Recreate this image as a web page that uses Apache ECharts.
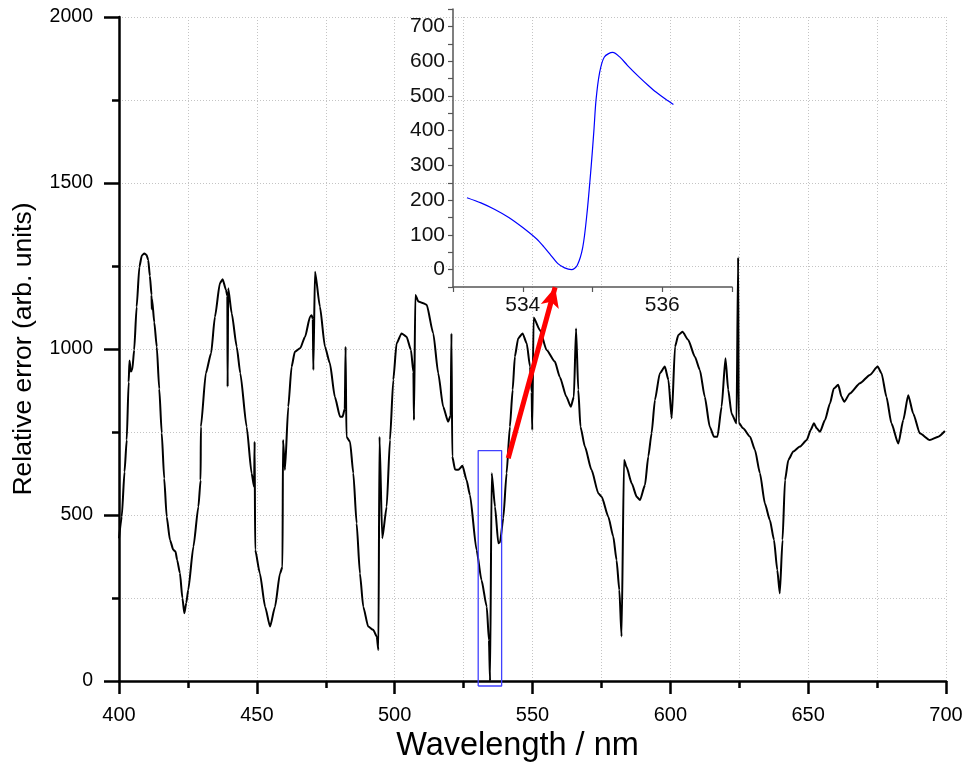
<!DOCTYPE html>
<html>
<head>
<meta charset="utf-8">
<script src="https://cdn.jsdelivr.net/npm/echarts@6/dist/echarts.min.js"></script>
<style>
html,body{margin:0;padding:0;background:#fff;}
#chart{width:966px;height:764px;}
</style>
</head>
<body>
<div id="chart"></div>
<script>
// Main spectrum: wavelength (nm) and relative error
const wavelength = [
400.0,401.0,402.0,402.8,403.5,403.8,404.3,404.8,405.5,406.4,407.4,408.3,409.2,410.0,410.6,411.2,411.8,411.9,412.0,412.8,
413.7,414.6,415.5,416.4,417.3,418.5,419.7,420.5,421.1,422.1,423.0,423.7,424.4,425.1,427.0,428.8,429.6,429.7,431.5,433.4,
434.8,436.6,437.6,438.8,439.3,439.4,439.6,440.9,442.7,444.0,446.3,448.1,449.0,449.2,449.4,451.1,453.0,454.8,456.6,458.4,
459.3,459.5,460.2,461.4,462.6,463.8,465.7,467.5,469.3,469.9,470.3,470.5,471.1,472.9,474.7,476.5,478.3,480.2,481.1,481.9,
482.2,482.5,483.8,485.0,486.2,487.4,488.6,490.4,492.2,493.5,494.1,494.5,495.5,497.1,498.3,499.5,500.7,502.5,504.3,505.9,
506.8,507.0,507.5,508.6,510.4,511.6,514.0,515.8,517.6,519.4,520.3,520.6,520.9,521.9,523.1,524.6,526.1,527.3,529.7,531.5,
533.4,534.2,534.6,535.2,536.4,537.6,538.2,539.4,540.6,541.8,542.8,543.6,544.8,546.4,547.9,549.1,549.7,549.9,550.4,552.7,
555.1,558.1,559.9,562.3,563.9,565.0,565.8,566.6,567.4,569.0,571.4,573.9,575.1,577.5,579.3,580.5,581.5,582.3,583.2,584.1,
586.0,587.8,589.0,590.8,592.0,593.2,594.4,596.2,598.0,599.3,600.5,601.7,602.9,604.4,606.5,608.9,610.7,612.5,614.3,615.8,
617.1,618.6,620.0,621.0,622.2,624.0,624.6,624.8,626.4,628.9,630.7,632.5,634.3,636.1,637.6,638.8,639.7,640.7,641.6,642.8,
644.6,647.0,649.5,650.9,652.1,653.1,654.3,656.1,657.9,659.3,660.9,662.1,663.1,665.1,668.8,672.4,675.2,676.6,678.4,680.2,
682.7,684.5,686.3,688.1,690.5,694.1,697.2,699.6
];
const relError = [
430,495,630,726,900,965,932,937,997,1127,1248,1282,1288,1283,1268,1220,1163,1120,1150,1080,
1007,880,747,610,495,425,395,390,364,325,250,204,235,274,405,525,605,766,927,987,
1097,1198,1210,1178,1160,886,1183,1107,1007,927,766,626,585,721,395,324,224,164,224,324,
344,726,636,826,946,992,1002,1037,1097,1102,1090,937,1233,1127,1007,957,856,796,796,820,
1007,736,721,626,475,324,224,164,154,134,93,736,430,525,726,907,1017,1047,1037,997,
930,786,1163,1143,1138,1133,1047,927,826,781,800,1047,676,637,636,648,605,560,395,304,
224,123,0,626,525,415,418,490,626,766,877,977,1032,1047,1017,947,870,756,1095,1057,
997,962,916,856,826,856,1062,877,766,706,636,565,555,495,435,364,274,134,666,645,
595,555,545,590,676,746,846,927,947,907,791,1007,1042,1052,1027,977,937,856,766,736,
736,826,972,877,806,776,1276,778,761,736,696,626,535,485,425,334,264,425,605,666,
691,706,726,756,776,761,751,786,836,881,892,856,841,866,897,922,947,927,856,776,
715,786,861,806,746,726,736,753
];

// Inset: zoom of the 533-537 nm region
const insetWavelength = [533.2,533.4,533.6,533.8,534.0,534.2,534.3,534.4,534.5,534.6,534.7,534.78,534.86,534.92,534.98,535.02,535.05,535.1,535.17,535.29,535.4,535.5,535.67,535.8,535.91,536.05,536.16];
const insetError = [207,192,173,150,121,88,66,42,18,5,0,12,64,160,295,400,487,565,612,625,610,588,554,530,511,490,475];

// Annotations (data coordinates of the main axes)
const boxWavelength = [530.3, 538.8];
const boxError = [-15, 694];
const arrowStart = [541.2, 671];
const arrowEnd = [558.2, 1186];

const mainXTicks = [400, 450, 500, 550, 600, 650, 700];
const mainYTicks = [0, 500, 1000, 1500, 2000];
const insetXLabels = [534, 536];
const insetYLabels = [0, 100, 200, 300, 400, 500, 600, 700];

const FONT = "'Liberation Sans', Arial, sans-serif";
const gridLine = {show: true, lineStyle: {color: '#c4c4c4', type: [1, 2], width: 1}};

const mainData = wavelength.map((w, i) => [w, relError[i]]);
const insetData = insetWavelength.map((w, i) => [w, insetError[i]]);
const boxData = [
  [boxWavelength[0], boxError[0]], [boxWavelength[1], boxError[0]],
  [boxWavelength[1], boxError[1]], [boxWavelength[0], boxError[1]],
  [boxWavelength[0], boxError[0]]
];

const chart = echarts.init(document.getElementById('chart'), null, {renderer: 'canvas'});
chart.setOption({
  animation: false,
  backgroundColor: '#ffffff',
  textStyle: {fontFamily: FONT},
  grid: [
    {left: 119, top: 17, right: 20, bottom: 83, containLabel: false, outerBoundsMode: 'none'},
    {left: 453, top: 9, width: 279, height: 278, containLabel: false, outerBoundsMode: 'none', z: 10}
  ],
  xAxis: [
    {
      type: 'value', gridIndex: 0,
      min: mainXTicks[0], max: mainXTicks[mainXTicks.length - 1], interval: 50,
      name: 'Wavelength / nm', nameLocation: 'middle', nameGap: 47,
      nameTextStyle: {fontSize: 32.5, color: '#000', fontFamily: FONT, padding: [0, 30, 0, 0]},
      axisLine: {show: true, onZero: false, lineStyle: {color: '#000', width: 2.5}},
      axisTick: {show: true, inside: false, length: 13, lineStyle: {color: '#000', width: 2.5}},
      minorTick: {show: true, splitNumber: 2, length: 7, lineStyle: {color: '#000', width: 2.5}},
      axisLabel: {fontSize: 20, color: '#000', margin: 24, fontFamily: FONT,
        formatter: v => mainXTicks.includes(v) ? String(v) : ''},
      splitLine: gridLine,
      minorSplitLine: gridLine
    },
    {
      type: 'value', gridIndex: 1,
      min: 533, max: 537, interval: 1,
      axisLine: {show: true, onZero: false, lineStyle: {color: '#555', width: 1.5}},
      axisTick: {show: true, length: 5, lineStyle: {color: '#555', width: 1.2}},
      axisLabel: {fontSize: 21, color: '#111', margin: 8, fontFamily: FONT,
        formatter: v => insetXLabels.includes(v) ? String(v) : ''},
      splitLine: {show: false}
    }
  ],
  yAxis: [
    {
      type: 'value', gridIndex: 0,
      min: mainYTicks[0], max: mainYTicks[mainYTicks.length - 1], interval: 500,
      name: 'Relative error (arb. units)', nameLocation: 'middle', nameGap: 82, nameRotate: 90,
      nameTextStyle: {fontSize: 26.5, color: '#000', fontFamily: FONT},
      axisLine: {show: true, onZero: false, lineStyle: {color: '#000', width: 2.5}},
      axisTick: {show: true, inside: false, length: 15, lineStyle: {color: '#000', width: 2.5}},
      minorTick: {show: true, splitNumber: 2, length: 7, lineStyle: {color: '#000', width: 2.5}},
      axisLabel: {fontSize: 19.5, color: '#000', margin: 26, fontFamily: FONT,
        formatter: v => mainYTicks.includes(v) ? String(v) : ''},
      splitLine: gridLine,
      minorSplitLine: gridLine
    },
    {
      type: 'value', gridIndex: 1,
      min: -50, max: 750, interval: 50,
      axisLine: {show: true, onZero: false, lineStyle: {color: '#555', width: 1.5}},
      axisTick: {show: true, length: 5, lineStyle: {color: '#555', width: 1.2}},
      axisLabel: {fontSize: 21, color: '#111', margin: 8, fontFamily: FONT,
        formatter: v => insetYLabels.includes(v) ? String(v) : ''},
      splitLine: {show: false}
    }
  ],
  series: [
    {
      type: 'line', xAxisIndex: 0, yAxisIndex: 0,
      data: mainData, showSymbol: false, symbol: 'none', clip: false,
      smooth: 0.2, smoothMonotone: 'x',
      lineStyle: {color: '#000', width: 2}, z: 3,
      markLine: {
        silent: true, symbol: ['none', 'arrow'], symbolSize: [14, 20],
        label: {show: false},
        lineStyle: {color: '#ff0000', width: 5, type: 'solid'},
        data: [[{coord: arrowStart}, {coord: arrowEnd}]]
      }
    },
    {
      type: 'line', xAxisIndex: 0, yAxisIndex: 0,
      data: boxData, showSymbol: false, symbol: 'none', clip: false, silent: true,
      lineStyle: {color: '#4040ff', width: 1.3}, z: 4
    },
    {
      type: 'line', xAxisIndex: 1, yAxisIndex: 1,
      data: insetData, showSymbol: false, symbol: 'none', smooth: 0.3,
      lineStyle: {color: '#0000ff', width: 1.2}, z: 12
    }
  ]
});
</script>
</body>
</html>
